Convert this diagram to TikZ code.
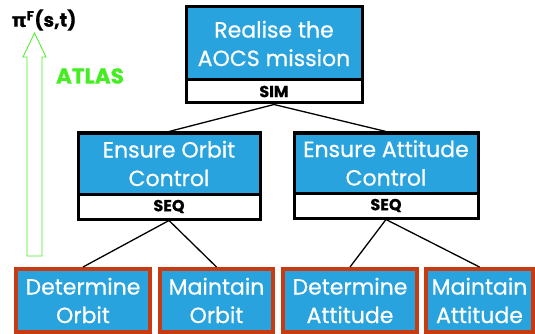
\documentclass[tikz,border=0pt]{standalone}
\usepackage{fontspec}
\setmainfont{Poppins}[FakeBold=0.6]
\newfontfamily\grfont{DejaVu Sans}[FakeBold=0.6]
\definecolor{boxblue}{HTML}{29A3DD}
\definecolor{leafred}{HTML}{C83A10}
\definecolor{atlasgreen}{HTML}{44EE22}
\begin{document}
\begin{tikzpicture}[x=1pt,y=-1pt,
  blue/.style={draw=black,line width=3pt,fill=boxblue,text=white,align=center,inner sep=0pt,font=\fontsize{22}{28.5}\selectfont},
  strip/.style={draw=black,line width=3pt,fill=white,text=black,inner sep=0pt,font=\fontsize{16}{17}\selectfont\bfseries},
  leaf/.style={draw=leafred,line width=4pt,fill=boxblue,text=white,align=center,inner sep=0pt,font=\fontsize{22}{28.5}\selectfont},
  conn/.style={draw=black,line width=1.3pt}]
\useasboundingbox (0,0) rectangle (535,334);
% top
\node[blue,minimum width=176pt,minimum height=73pt] (top) at (274,43.5) {Realise the\\AOCS mission};
\node[strip,minimum width=176pt,minimum height=23pt] (sim) at (274,91.5) {SIM};
% orbit
\node[blue,minimum width=182pt,minimum height=61pt] (orb) at (169,163.5) {Ensure Orbit\\Control};
\node[strip,minimum width=182pt,minimum height=25pt] (seqa) at (169,206.5) {SEQ};
% attitude
\node[blue,minimum width=184pt,minimum height=60pt] (att) at (386,163) {Ensure Attitude\\Control};
\node[strip,minimum width=184pt,minimum height=25pt] (seqb) at (386,205.5) {SEQ};
% leaves
\node[leaf,minimum width=134pt,minimum height=63pt] (dorb) at (83,300.5) {Determine\\Orbit};
\node[leaf,minimum width=113pt,minimum height=63pt] (morb) at (216.5,300.5) {Maintain\\Orbit};
\node[leaf,minimum width=134pt,minimum height=63pt] (datt) at (350,300.5) {Determine\\Attitude};
\node[leaf,minimum width=107pt,minimum height=63pt] (matt) at (479.5,300.5) {Maintain\\Attitude};
% connectors
\draw[conn] (sim.south) -- (orb.north);
\draw[conn] (sim.south) -- (att.north);
\draw[conn] (seqa.south) -- (dorb.north);
\draw[conn] (seqa.south) -- (morb.north);
\draw[conn] (seqb.south) -- (datt.north);
\draw[conn] (seqb.south) -- (matt.north);
% ATLAS arrow
\draw[atlasgreen,line width=0.8pt] (27,256) -- (27,57) -- (23,57) -- (34.5,33) -- (46,57) -- (42,57) -- (42,256) -- cycle;
\node[text=atlasgreen,font=\fontsize{21.5}{24}\selectfont\bfseries,inner sep=0pt] (atlas) at (90,76) {ATLAS};
\node[font=\fontsize{19}{22}\selectfont\bfseries,inner sep=0pt] (pi) at (44,20) {{\grfont π}\textsuperscript{F}(s,t)};
\end{tikzpicture}
\end{document}
